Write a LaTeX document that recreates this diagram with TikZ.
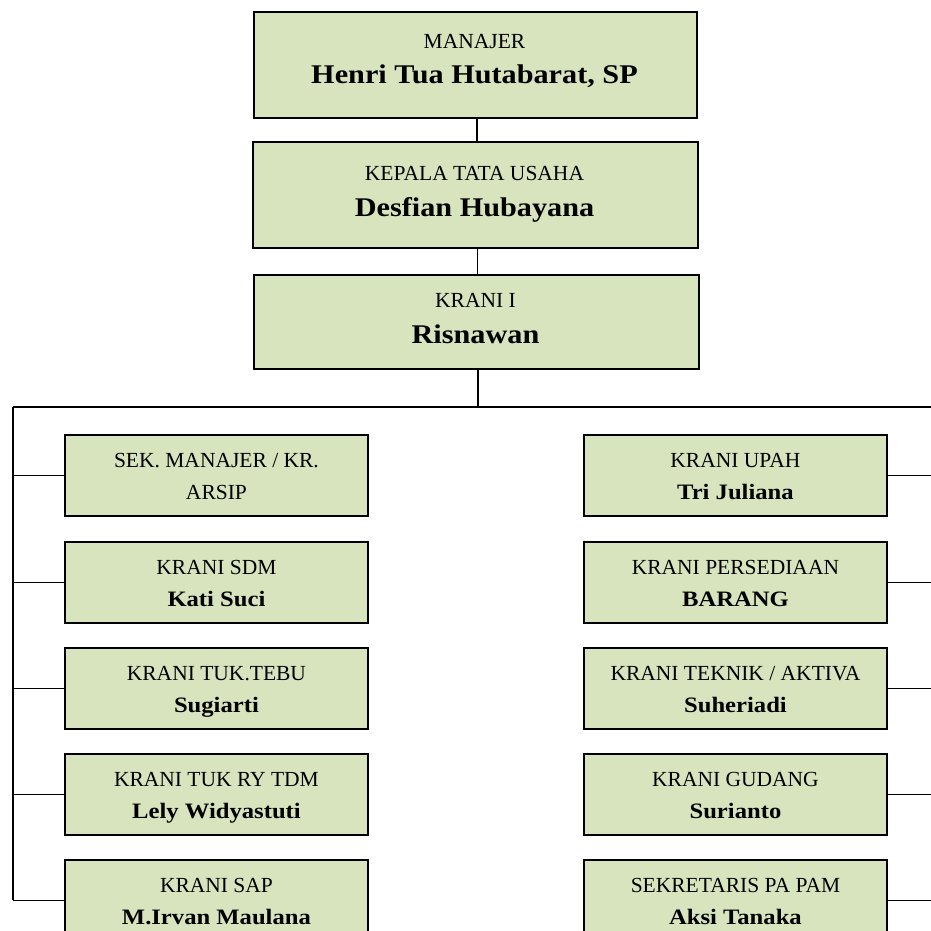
\documentclass[tikz,border=0pt]{standalone}
\usepackage{fontspec}
\setmainfont{Liberation Serif}[BoldFeatures={FakeStretch=1.12}]
\definecolor{boxfill}{HTML}{D7E4BD}
\tikzset{
  box/.style={draw=black, line width=1.9pt, fill=boxfill, rectangle, inner sep=0pt, anchor=north west},
  topbox/.style={box, minimum width=443pt},
  kidbox/.style={box, minimum width=303pt, minimum height=81pt},
  ttl/.style={anchor=base, inner sep=0pt, font=\fontsize{21.5}{26}\selectfont},
  topname/.style={anchor=base, inner sep=0pt, font=\fontsize{27}{32}\selectfont\bfseries},
  kidname/.style={anchor=base, inner sep=0pt, font=\fontsize{22}{26}\selectfont\bfseries},
  conn/.style={draw=black, line width=1.9pt}
}
\newcommand{\kid}[6]{% name, left x, top y, title, person, person style
  \node[kidbox] (#1) at (#2,#3) {};
  \node[ttl] (#1t) at ($(#1.center)+(0,-8)$) {#4};
  \node[#6] (#1n) at ($(#1.center)+(0,24)$) {#5};
}
\usetikzlibrary{calc}
\begin{document}
\begin{tikzpicture}[x=1pt,y=-1pt]
\useasboundingbox (0,0) rectangle (931,931);
\clip (0,0) rectangle (931,931);

% top chain
\node[topbox, minimum height=106pt] (man) at (253,11) {};
\node[ttl] (manT) at (474.5,49) {MANAJER};
\node[topname] (manN) at (474.5,84) {Henri Tua Hutabarat, SP};

\node[topbox, minimum width=445pt, minimum height=106pt] (kep) at (252,141) {};
\node[ttl] (kepT) at (474.5,180) {KEPALA TATA USAHA};
\node[topname] (kepN) at (474.5,216) {Desfian Hubayana};

\node[topbox, minimum width=445pt, minimum height=94pt] (kr) at (253,274) {};
\node[ttl] (krT) at (475.5,307) {KRANI I};
\node[topname] (krN) at (475.5,343) {Risnawan};

% left column
\kid{l1}{64}{434}{SEK. MANAJER / KR.}{ARSIP}{ttl}
\kid{l2}{64}{541}{KRANI SDM}{Kati Suci}{kidname}
\kid{l3}{64}{647}{KRANI TUK.TEBU}{Sugiarti}{kidname}
\kid{l4}{64}{753}{KRANI TUK RY TDM}{Lely Widyastuti}{kidname}
\kid{l5}{64}{859}{KRANI SAP}{M.Irvan Maulana}{kidname}

% right column
\kid{r1}{583}{434}{KRANI UPAH}{Tri Juliana}{kidname}
\kid{r2}{583}{541}{KRANI PERSEDIAAN}{BARANG}{kidname}
\kid{r3}{583}{647}{KRANI TEKNIK / AKTIVA}{Suheriadi}{kidname}
\kid{r4}{583}{753}{KRANI GUDANG}{Surianto}{kidname}
\kid{r5}{583}{859}{SEKRETARIS PA PAM}{Aksi Tanaka}{kidname}

% connectors
\coordinate (busL) at (13,407);
\coordinate (busR) at (934,407);
\draw[conn] ([xshift=1.5pt]man.south) -- ([xshift=1.5pt]man.south |- kep.north);
\draw[conn] ([xshift=2pt]kep.south) -- ([xshift=2pt]kep.south |- kr.north);
\draw[conn] ([xshift=1.5pt]kr.south) -- ([xshift=1.5pt]kr.south |- busL);
\draw[conn] (busL) -- (busR);
\draw[conn] (busL) -- (busL |- l5.west);
\draw[conn] (busR) -- (busR |- r5.east);
\foreach \b in {l1,l2,l3,l4,l5}{\draw[conn] (busL |- \b.west) -- (\b.west);}
\foreach \b in {r1,r2,r3,r4,r5}{\draw[conn] (\b.east) -- (busR |- \b.east);}
\end{tikzpicture}
\end{document}
